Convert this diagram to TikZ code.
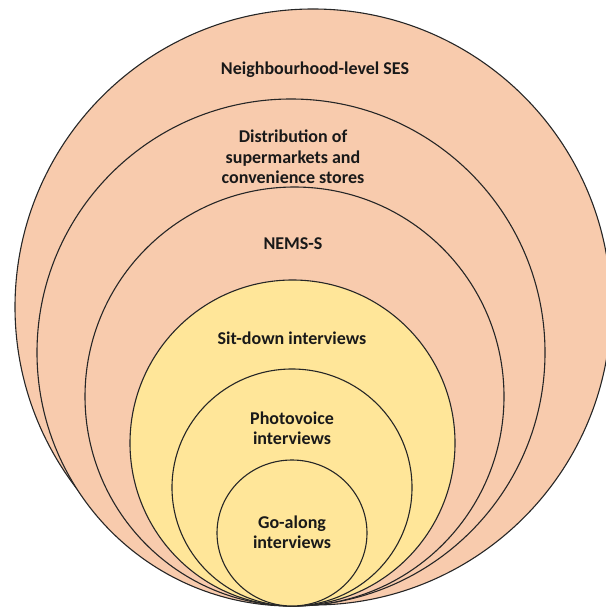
\documentclass[tikz,border=0pt]{standalone}
\usepackage{fontspec}
\setmainfont{Carlito}
\usepackage{tikz}
\definecolor{ringsalmon}{HTML}{F8CBAD}
\definecolor{ringgold}{HTML}{FFE699}

\begin{document}
\begin{tikzpicture}[x=1pt,y=-1pt,
    ring/.style={draw=black!85,line width=1.1pt},
    ringtext/.style={font=\bfseries\fontsize{18}{20.5}\selectfont,align=center,text=black!90}]
    \useasboundingbox (0,0) rectangle (605,609);
    % nested rings, outer to inner
    \draw[ring,fill=ringsalmon] (313,307) ellipse [x radius=298pt, y radius=298pt];
    \draw[ring,fill=ringsalmon] (291,352.5) ellipse [x radius=254pt, y radius=253.5pt];
    \draw[ring,fill=ringsalmon] (294.5,396.5) ellipse [x radius=209.5pt, y radius=209.5pt];
    \draw[ring,fill=ringgold] (292.5,443) ellipse [x radius=162.5pt, y radius=163pt];
    \draw[ring,fill=ringgold] (292,487.5) ellipse [x radius=120pt, y radius=118.5pt];
    \draw[ring,fill=ringgold] (292,533) ellipse [x radius=75pt, y radius=73pt];
    % labels
    \node[ringtext] (ses) at (315,70) {Neighbourhood-level SES};
    \node[ringtext] (dist) at (293,157) {Distribution of\\supermarkets and\\convenience stores};
    \node[ringtext] (nems) at (293,244) {NEMS-S};
    \node[ringtext] (sitdown) at (292,338) {Sit-down interviews};
    \node[ringtext] (photo) at (292,428) {Photovoice\\interviews};
    \node[ringtext] (goalong) at (292,532) {Go-along\\interviews};
\end{tikzpicture}
\end{document}
